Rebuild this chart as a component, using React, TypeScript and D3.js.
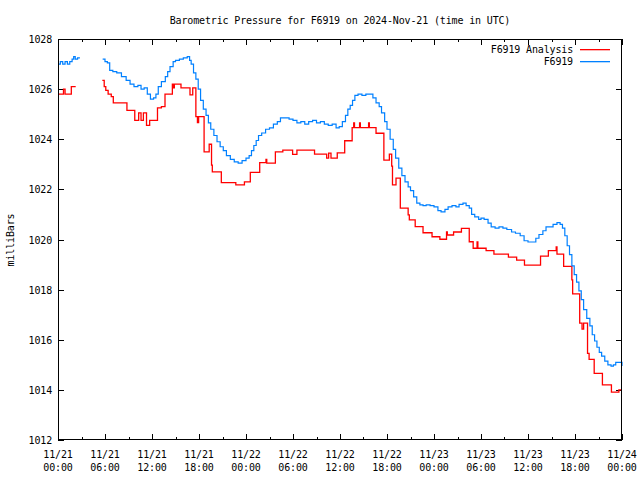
import React from "react";
import * as d3 from "d3";

const TITLE = "Barometric Pressure for F6919 on 2024-Nov-21 (time in UTC)";
const Y_LABEL = "milliBars";
const SERIES_NAMES = ["F6919 Analysis", "F6919"];
const SERIES_COLORS = ["#ff0000", "#0080ff"];

const Y_TICKS = [1012, 1014, 1016, 1018, 1020, 1022, 1024, 1026, 1028];
const X_TICK_HOURS = [0, 6, 12, 18, 24, 30, 36, 42, 48, 54, 60, 66, 72];
const X_MINOR_HOURS = [3, 9, 15, 21, 27, 33, 39, 45, 51, 57, 63, 69];
const X_TICK_DATES = ["11/21", "11/21", "11/21", "11/21", "11/22", "11/22", "11/22", "11/22", "11/23", "11/23", "11/23", "11/23", "11/24"];
const X_TICK_TIMES = ["00:00", "06:00", "12:00", "18:00", "00:00", "06:00", "12:00", "18:00", "00:00", "06:00", "12:00", "18:00", "00:00"];

// hours since 11/21 00:00 UTC, pressure (mb); null = gap
const ANALYSIS: [number, number | null][] = [
  [0, 1025.8], [0.7, 1026.0], [0.9, 1025.8], [1.7, 1026.1], [2.26, 1026.1], [2.27, null],
  [5.66, 1026.35], [5.9, 1026.1], [6.1, 1025.95], [6.4, 1025.8], [6.8, 1025.7], [7.06, 1025.45],
  [8.8, 1025.15], [9.8, 1024.75], [10.3, 1025.05], [10.6, 1024.75], [10.9, 1025.05], [11.3, 1024.55],
  [11.7, 1024.75], [12.7, 1025.25], [13.2, 1025.3], [13.66, 1025.8], [14.6, 1026.2], [14.75, 1026.05],
  [14.85, 1026.2], [15.7, 1026.05], [16.85, 1025.77], [17.2, 1026.05], [17.6, 1024.9], [17.8, 1024.66],
  [17.95, 1024.9], [18.65, 1023.5], [19.3, 1023.8], [19.6, 1022.97], [19.7, 1022.7], [20.85, 1022.27],
  [22.7, 1022.18], [23.8, 1022.3], [24.55, 1022.68], [25.75, 1023.07], [26.55, 1023.2], [26.65, 1023.05],
  [27.75, 1023.5], [28.7, 1023.57], [29.95, 1023.4], [30.5, 1023.57], [32.75, 1023.41], [34.3, 1023.25],
  [34.55, 1023.45], [34.85, 1023.25], [35.65, 1023.46], [36.6, 1023.94], [37.55, 1024.46], [37.75, 1024.65],
  [37.85, 1024.46], [38.5, 1024.65], [38.6, 1024.46], [39.65, 1024.65], [39.75, 1024.46], [40.6, 1024.24],
  [41.6, 1023.17], [42.3, 1023.41], [42.6, 1022.93], [42.7, 1022.18], [43.15, 1022.45], [43.7, 1021.25],
  [44.7, 1020.98], [44.85, 1020.78], [45.6, 1020.51], [46.6, 1020.27], [47.75, 1020.11], [48.75, 1020.01],
  [49.6, 1020.3], [49.7, 1020.18], [50.5, 1020.3], [51.5, 1020.44], [52.5, 1019.91], [53.0, 1019.65],
  [53.5, 1019.9], [53.6, 1019.65], [54.65, 1019.56], [55.65, 1019.42], [57.5, 1019.3], [58.55, 1019.18],
  [59.55, 1018.98], [61.6, 1019.34], [62.6, 1019.56], [63.6, 1019.7], [63.7, 1019.42], [64.55, 1018.93],
  [65.6, 1018.39], [65.7, 1017.83], [66.6, 1016.66], [66.9, 1016.42], [67.1, 1016.66], [67.6, 1015.46],
  [67.8, 1015.22], [68.45, 1014.66], [69.5, 1014.2], [70.65, 1013.91], [71.6, 1014.0], [72, 1014.0],
];

const STATION: [number, number | null][] = [
  [0, 1027.0], [0.3, 1027.1], [0.6, 1027.0], [0.9, 1027.1], [1.2, 1027.0], [1.5, 1027.1], [1.8, 1027.2],
  [2.0, 1027.3], [2.2, 1027.2], [2.5, 1027.25], [2.8, 1027.25], [2.81, null],
  [5.7, 1027.2], [6.0, 1027.1], [6.3, 1027.05], [6.6, 1026.75], [7.0, 1026.7], [7.5, 1026.65], [8.1, 1026.5],
  [8.7, 1026.35], [9.2, 1026.2], [9.7, 1026.1], [10.2, 1026.15], [10.6, 1026.0], [11.0, 1026.05], [11.4, 1025.8],
  [11.8, 1025.6], [12.2, 1025.65], [12.5, 1025.8], [12.8, 1026.1], [13.2, 1026.3], [13.7, 1026.5],
  [14.0, 1026.7], [14.3, 1026.9], [14.7, 1027.1], [15.0, 1027.15], [15.5, 1027.2], [16.0, 1027.25],
  [16.5, 1027.3], [16.8, 1027.15], [17.0, 1027.0], [17.3, 1026.65], [17.6, 1026.4], [17.9, 1026.0],
  [18.2, 1025.55], [18.55, 1025.2], [18.9, 1024.95], [19.2, 1024.65], [19.5, 1024.4], [19.9, 1024.15],
  [20.3, 1023.9], [20.7, 1023.7], [21.1, 1023.55], [21.5, 1023.35], [22.0, 1023.2], [22.5, 1023.1],
  [23.0, 1023.05], [23.5, 1023.15], [24.0, 1023.25], [24.4, 1023.35], [24.7, 1023.55], [25.0, 1023.75],
  [25.3, 1023.95], [25.6, 1024.15], [26.0, 1024.25], [26.5, 1024.4], [27.0, 1024.45], [27.5, 1024.6],
  [28.0, 1024.7], [28.4, 1024.85], [29.0, 1024.85], [29.5, 1024.8], [30.0, 1024.75], [30.5, 1024.65],
  [31.0, 1024.7], [31.5, 1024.6], [32.0, 1024.7], [32.5, 1024.75], [33.0, 1024.65], [33.5, 1024.7],
  [34.0, 1024.6], [34.5, 1024.55], [35.0, 1024.6], [35.5, 1024.45], [35.9, 1024.5], [36.3, 1024.7],
  [36.7, 1024.95], [37.0, 1025.2], [37.3, 1025.35], [37.6, 1025.55], [37.9, 1025.75], [38.3, 1025.8],
  [38.8, 1025.75], [39.3, 1025.8], [39.8, 1025.8], [40.2, 1025.65], [40.6, 1025.45], [41.0, 1025.3],
  [41.3, 1025.05], [41.7, 1024.7], [42.0, 1024.4], [42.4, 1024.0], [42.8, 1023.6], [43.1, 1023.25],
  [43.5, 1022.85], [43.9, 1022.55], [44.3, 1022.3], [44.7, 1022.1], [45.0, 1021.95], [45.4, 1021.7],
  [45.8, 1021.45], [46.2, 1021.38], [46.6, 1021.35], [47.0, 1021.38], [47.5, 1021.35], [48.0, 1021.3],
  [48.5, 1021.15], [48.9, 1021.1], [49.4, 1021.2], [49.8, 1021.3], [50.3, 1021.35], [50.8, 1021.3],
  [51.2, 1021.4], [51.7, 1021.45], [52.1, 1021.35], [52.5, 1021.25], [52.8, 1021.0], [53.2, 1020.9],
  [53.7, 1020.8], [54.0, 1020.85], [54.4, 1020.8], [54.9, 1020.65], [55.3, 1020.5], [55.8, 1020.45],
  [56.3, 1020.5], [56.8, 1020.45], [57.3, 1020.4], [57.9, 1020.3], [58.4, 1020.25], [59.0, 1020.15],
  [59.5, 1019.95], [60.0, 1019.9], [60.5, 1019.9], [61.0, 1020.05], [61.4, 1020.2], [61.9, 1020.35],
  [62.3, 1020.5], [62.8, 1020.5], [63.2, 1020.6], [63.7, 1020.67], [64.1, 1020.6], [64.4, 1020.45],
  [64.7, 1020.15], [65.0, 1019.75], [65.3, 1019.4], [65.6, 1018.95], [65.9, 1018.6], [66.2, 1018.3],
  [66.5, 1017.95], [66.8, 1017.6], [67.1, 1017.2], [67.5, 1016.85], [67.9, 1016.55], [68.2, 1016.2],
  [68.5, 1015.95], [68.8, 1015.7], [69.1, 1015.5], [69.4, 1015.35], [69.8, 1015.15], [70.2, 1015.0],
  [70.6, 1014.95], [70.9, 1015.0], [71.2, 1015.1], [71.6, 1015.1], [72.0, 1014.95],
];

const W = 640;
const H = 480;
const M = { left: 58, right: 18, top: 39, bottom: 40 };
const FONT = "'DejaVu Sans Mono', 'Liberation Mono', monospace";

export default function App() {
  const x = d3.scaleLinear().domain([0, 72]).range([M.left, W - M.right]);
  const y = d3.scaleLinear().domain([1012, 1028]).range([H - M.bottom, M.top]);

  const stepLine = d3
    .line<[number, number | null]>()
    .defined((d) => d[1] !== null)
    .x((d) => x(d[0]))
    .y((d) => y(d[1] as number))
    .curve(d3.curveStepAfter);

  const x0 = x(0), x1 = x(72), yT = y(1028), yB = y(1012);
  const textStyle: React.CSSProperties = { fontFamily: FONT, fontSize: 10, letterSpacing: -0.15 };

  return (
    <svg width={W} height={H} style={{ position: "absolute", left: 0, top: 0, background: "#fff" }}>
      <rect x={0} y={0} width={W} height={H} fill="#fff" />
      <text x={340} y={24} textAnchor="middle" style={textStyle} fill="#000">{TITLE}</text>
      <text transform={`translate(14,240) rotate(-90)`} textAnchor="middle" style={textStyle} fill="#000">{Y_LABEL}</text>

      <g shapeRendering="crispEdges" stroke="#000" strokeWidth={1}>
        {Y_TICKS.map((t) => (
          <g key={"y" + t}>
            <line x1={x0} x2={x0 + 6} y1={Math.round(y(t)) + 0.5} y2={Math.round(y(t)) + 0.5} />
            <line x1={x1} x2={x1 - 6} y1={Math.round(y(t)) + 0.5} y2={Math.round(y(t)) + 0.5} />
          </g>
        ))}
        {X_TICK_HOURS.map((t) => (
          <g key={"x" + t}>
            <line x1={Math.round(x(t)) + 0.5} x2={Math.round(x(t)) + 0.5} y1={yB} y2={yB - 6} />
            <line x1={Math.round(x(t)) + 0.5} x2={Math.round(x(t)) + 0.5} y1={yT} y2={yT + 6} />
          </g>
        ))}
        {X_MINOR_HOURS.map((t) => (
          <g key={"m" + t}>
            <line x1={Math.round(x(t)) + 0.5} x2={Math.round(x(t)) + 0.5} y1={yB} y2={yB - 3} />
            <line x1={Math.round(x(t)) + 0.5} x2={Math.round(x(t)) + 0.5} y1={yT} y2={yT + 3} />
          </g>
        ))}
      </g>

      {Y_TICKS.map((t) => (
        <text key={"yl" + t} x={x0 - 6} y={y(t) + 4} textAnchor="end" style={textStyle} fill="#000">{t}</text>
      ))}
      {X_TICK_HOURS.map((t, i) => (
        <g key={"xl" + t}>
          <text x={x(t)} y={yB + 18} textAnchor="middle" style={textStyle} fill="#000">{X_TICK_DATES[i]}</text>
          <text x={x(t)} y={yB + 31} textAnchor="middle" style={textStyle} fill="#000">{X_TICK_TIMES[i]}</text>
        </g>
      ))}

      <path d={stepLine(ANALYSIS) || ""} fill="none" stroke={SERIES_COLORS[0]} strokeWidth={1.3} />
      <path d={stepLine(STATION) || ""} fill="none" stroke={SERIES_COLORS[1]} strokeWidth={1.2} />

      <rect x={x0 + 0.5} y={yT + 0.5} width={x1 - x0 - 1} height={yB - yT - 1} fill="none" stroke="#000" strokeWidth={1} shapeRendering="crispEdges" />

      <g>
        <text x={573} y={53} textAnchor="end" style={textStyle} fill="#000">{SERIES_NAMES[0]}</text>
        <rect x={580} y={49} width={30} height={1.3} fill={SERIES_COLORS[0]} />
        <text x={573} y={65} textAnchor="end" style={textStyle} fill="#000">{SERIES_NAMES[1]}</text>
        <rect x={580} y={61} width={30} height={1.3} fill={SERIES_COLORS[1]} />
      </g>
    </svg>
  );
}
